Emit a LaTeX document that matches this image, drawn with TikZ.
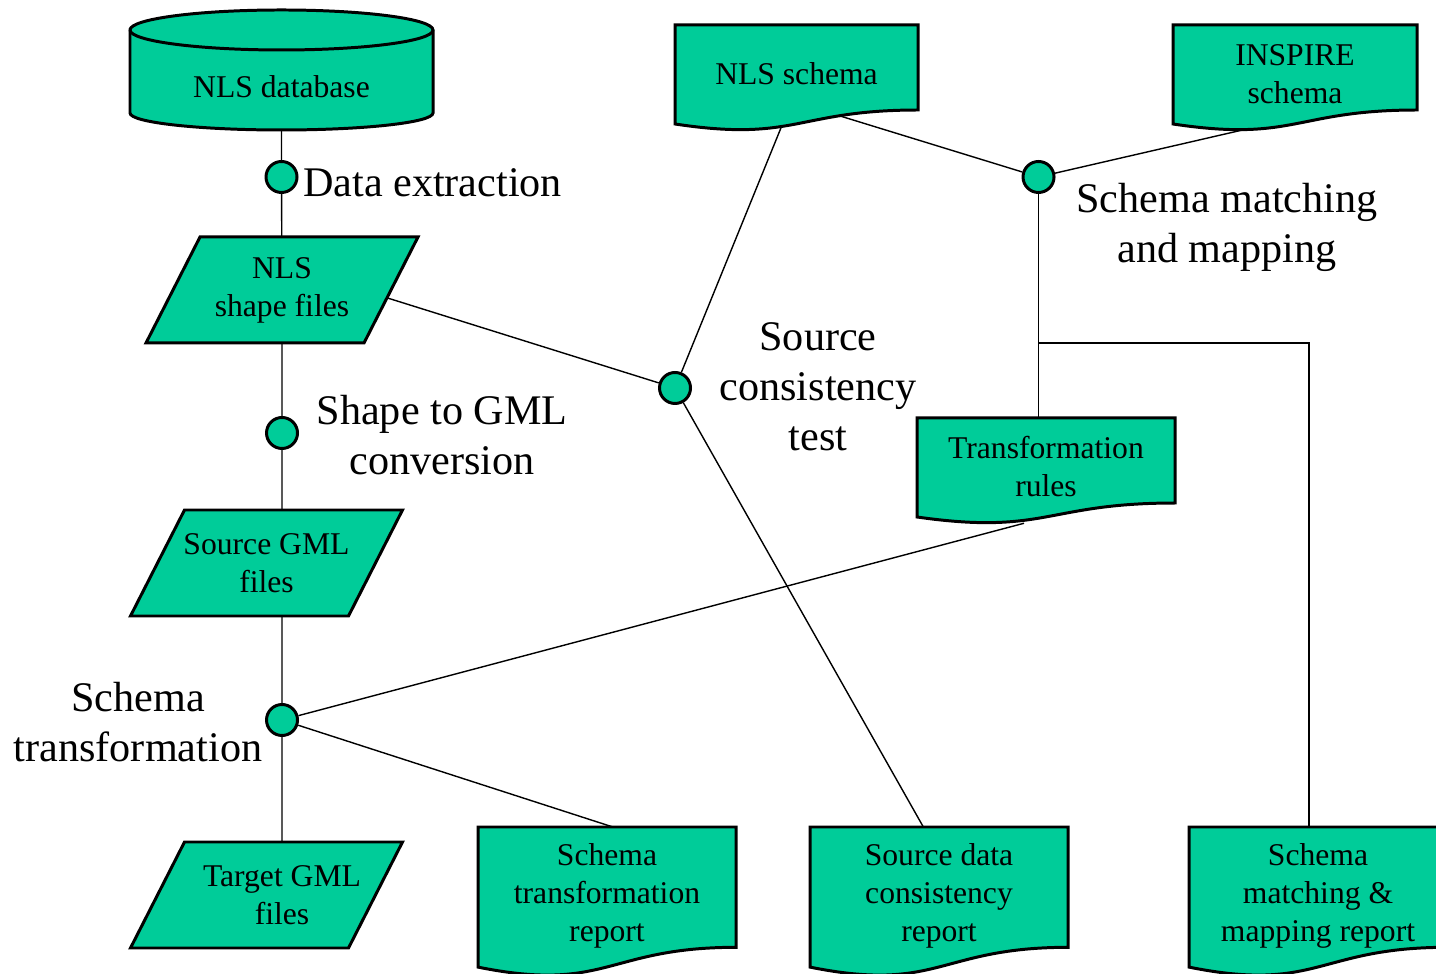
\documentclass[tikz,border=0pt]{standalone}
\usepackage{fontspec}
\setmainfont{Liberation Serif}
\usepackage{tikz}
\usetikzlibrary{backgrounds, positioning}
\definecolor{boxgreen}{RGB}{0,204,153}

\newcommand{\docnode}[6]{%
  \filldraw[box] (#2,#3) -- (#2+#4,#3) -- (#2+#4,#3-0.802*#5)
    .. controls (#2+0.5*#4,#3-0.802*#5) and (#2+0.5*#4,#3-1.1075*#5) .. (#2,#3-0.934*#5) -- cycle;
  \node[txt] (#1) at (#2+0.5*#4,#3-0.46*#5) {#6};}
\newcommand{\filenode}[5][0]{%
  \filldraw[box] (#3-1.36,#4-0.53) -- (#3-0.82,#4+0.53) -- (#3+1.36,#4+0.53)
    -- (#3+0.82,#4-0.53) -- cycle;
  \node[txt] (#2) at (#3+#1,#4) {#5};}

\begin{document}
\begin{tikzpicture}[line width=0.7pt,
  box/.style={fill=boxgreen, draw, line width=0.85pt},
  txt/.style={font=\fontsize{9}{10.8}\selectfont, align=center, inner sep=0pt},
  lbl/.style={font=\fontsize{12}{14.2}\selectfont, align=center, inner sep=0pt},
  dot/.style={circle, box, minimum size=0.31cm, inner sep=0pt}]
  \useasboundingbox (0,0) rectangle (14.36,-9.74);

  \filldraw[box] (1.30,-0.30) -- (1.30,-1.13) arc (180:360:1.515 and 0.17)
    -- (4.33,-0.30) arc (0:180:1.515 and 0.20) -- cycle;
  \draw[line width=0.85pt] (1.30,-0.30) arc (180:360:1.515 and 0.20);
  \node[txt] (db) at (2.815,-0.87) {NLS database};

  \filenode{shp}{2.82}{-2.90}{NLS\\shape files}
  \filenode{src}{2.665}{-5.63}{Source GML\\files}
  \filenode[0.155]{tgt}{2.665}{-8.95}{Target GML\\files}

  \docnode{nlsschema}{6.75}{-0.25}{2.43}{1.06}{NLS schema}
  \docnode{inspire}{11.73}{-0.25}{2.44}{1.06}{INSPIRE\\schema}
  \docnode{trules}{9.17}{-4.18}{2.58}{1.06}{Transformation\\rules}
  \docnode{streport}{4.78}{-8.27}{2.58}{1.50}{Schema\\transformation\\report}
  \docnode{srcreport}{8.10}{-8.27}{2.58}{1.50}{Source data\\consistency\\report}
  \docnode{mapreport}{11.89}{-8.27}{2.58}{1.50}{Schema\\matching \&\\mapping report}

  \node[dot] (ext) at (2.815,-1.77) {};
  \node[dot] (conv) at (2.82,-4.33) {};
  \node[dot] (trans) at (2.82,-7.20) {};
  \node[dot] (test) at (6.75,-3.88) {};
  \node[dot] (match) at (10.385,-1.77) {};

  \node[lbl, anchor=west] (extlbl) at (3.02,-1.83) {Data extraction};
  \node[lbl] (convlbl) at (4.42,-4.355) {Shape to GML\\conversion};
  \node[lbl] (translbl) at (1.38,-7.225) {Schema\\transformation};
  \node[lbl] (testlbl) at (8.18,-3.87) {Source\\consistency\\test};
  \node[lbl] (matchlbl) at (12.27,-2.27) {Schema matching\\and mapping};

  \coordinate (split) at (10.385,-3.43);
  \coordinate (bend) at (13.09,-3.43);

  \begin{pgfonlayer}{background}
    \draw (db) -- (ext) -- (shp) -- (conv) -- (conv |- src) -- (trans) -- (trans |- tgt);
    \draw ([xshift=0.48cm,yshift=0.10cm]shp.center) -- (test);
    \draw ([yshift=-0.16cm]nlsschema.center) -- (test)
      -- ([xshift=0.03cm,yshift=0.36cm]srcreport.center);
    \draw ([xshift=0.135cm,yshift=-0.33cm]nlsschema.center) -- (match)
      -- ([xshift=0.05cm,yshift=-0.43cm]inspire.center);
    \draw (match) -- (match |- trules);
    \draw (split) -- (bend) -- (bend |- mapreport);
    \draw ([xshift=-0.22cm,yshift=-0.565cm]trules.center) -- (trans)
      -- ([xshift=0.77cm,yshift=0.46cm]streport.center);
  \end{pgfonlayer}
\end{tikzpicture}
\end{document}
